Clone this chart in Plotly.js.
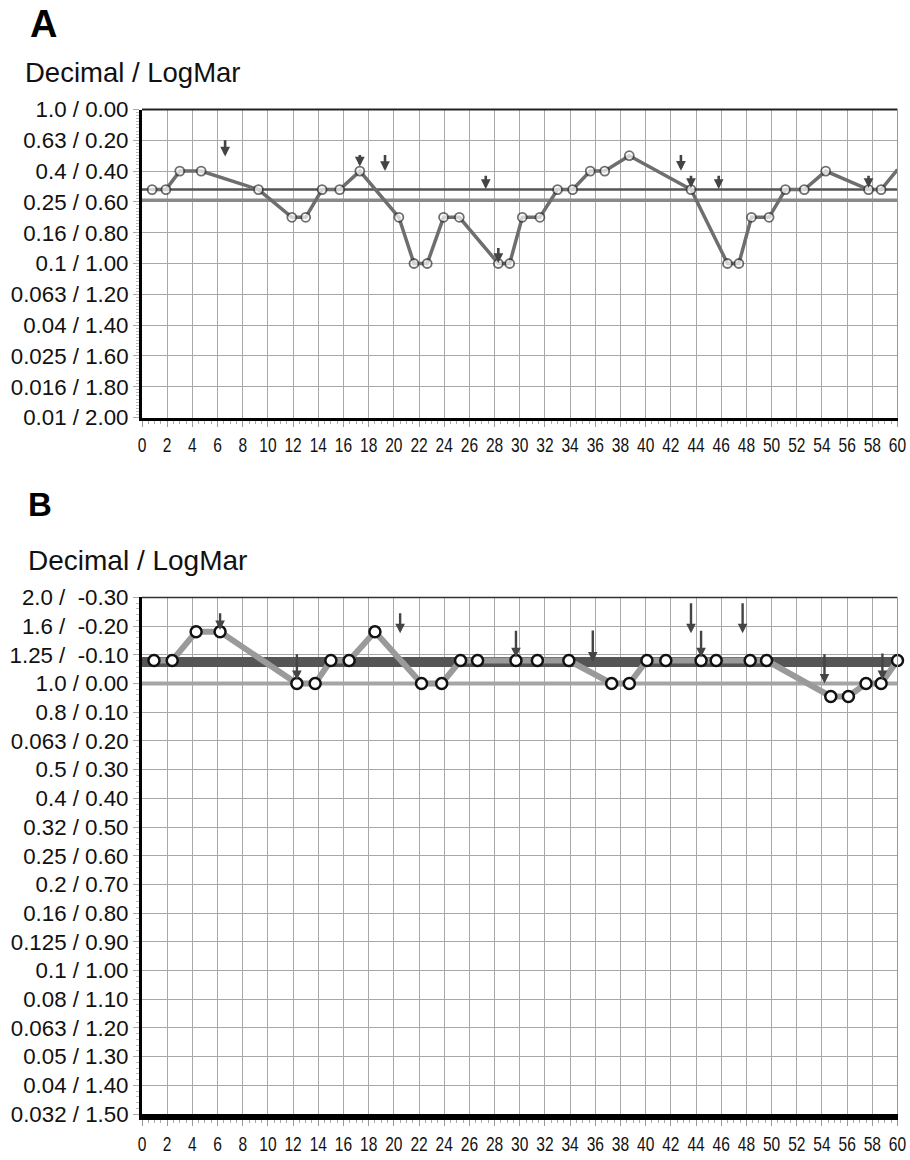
<!DOCTYPE html>
<html>
<head>
<meta charset="utf-8">
<script src="https://cdn.plot.ly/plotly-3.0.1.min.js"></script>
<style>
html,body{margin:0;padding:0;background:#fff;}
#chart{width:910px;height:1160px;}
</style>
</head>
<body>
<div id="chart"></div>
<script>
// ---------- Panel A data ----------
const xA = [0.8,1.9,3.0,4.7,9.25,11.9,13.0,14.3,15.7,17.3,20.4,21.6,22.65,23.95,25.2,28.3,29.2,30.2,31.6,33.0,34.2,35.6,36.75,38.7,43.6,46.5,47.4,48.4,49.8,51.1,52.6,54.3,57.7,58.7,60.0];
const yA = [0.52,0.52,0.40,0.40,0.52,0.70,0.70,0.52,0.52,0.40,0.70,1.00,1.00,0.70,0.70,1.00,1.00,0.70,0.70,0.52,0.52,0.40,0.40,0.30,0.52,1.00,1.00,0.70,0.70,0.52,0.52,0.40,0.52,0.52,0.39];
const refA = [0.52, 0.59];
const arrowXA    = [6.6, 17.3, 19.3, 27.3, 28.3, 42.8, 43.6, 45.8, 57.7];
const arrowTipA  = [0.306, 0.37, 0.40, 0.516, 0.997, 0.397, 0.51, 0.516, 0.51];
const arrowTailA = [0.19, 0.285, 0.285, 0.42, 0.89, 0.285, 0.42, 0.42, 0.42];
const tickValsA = [0.0,0.2,0.4,0.6,0.8,1.0,1.2,1.4,1.6,1.8,2.0];
const tickTextA = ["1.0 / 0.00","0.63 / 0.20","0.4 / 0.40","0.25 / 0.60","0.16 / 0.80","0.1 / 1.00","0.063 / 1.20","0.04 / 1.40","0.025 / 1.60","0.016 / 1.80","0.01 / 2.00"];

// ---------- Panel B data ----------
const xB = [0.95,2.4,4.3,6.2,12.3,13.75,15.0,16.45,18.5,22.2,23.8,25.3,26.65,29.7,31.4,33.9,37.3,38.7,40.1,41.6,44.4,45.6,48.3,49.6,54.7,56.1,57.5,58.7,60.0];
const yB = [-0.08,-0.08,-0.18,-0.18,0.0,0.0,-0.08,-0.08,-0.18,0.0,0.0,-0.08,-0.08,-0.08,-0.08,-0.08,0.0,0.0,-0.08,-0.08,-0.08,-0.08,-0.08,-0.08,0.045,0.045,0.0,0.0,-0.08];
const refB = [-0.075, 0.0];
const arrowXB    = [6.2, 12.3, 20.5, 29.7, 35.8, 43.6, 44.4, 47.7, 54.2, 58.8];
const arrowTipB  = [-0.186, -0.012, -0.175, -0.091, -0.076, -0.175, -0.091, -0.175, 0.0, -0.012];
const arrowTailB = [-0.25, -0.107, -0.25, -0.189, -0.19, -0.285, -0.189, -0.285, -0.107, -0.11];
const tickValsB = [-0.3,-0.2,-0.1,0.0,0.1,0.2,0.3,0.4,0.5,0.6,0.7,0.8,0.9,1.0,1.1,1.2,1.3,1.4,1.5];
const tickTextB = ["2.0 /\u00a0 -0.30","1.6 /\u00a0 -0.20","1.25 /\u00a0 -0.10","1.0 / 0.00","0.8 / 0.10","0.063 / 0.20","0.5 / 0.30","0.4 / 0.40","0.32 / 0.50","0.25 / 0.60","0.2 / 0.70","0.16 / 0.80","0.125 / 0.90","0.1 / 1.00","0.08 / 1.10","0.063 / 1.20","0.05 / 1.30","0.04 / 1.40","0.032 / 1.50"];

const xTicks = [];
for (let v = 0; v <= 60; v += 2) xTicks.push(v);

// ---------- layout helpers ----------
const W = 910, H = 1160;
const px = v => v / W;
const py = v => 1 - v / H;
const xDom = [px(142), px(897.5)];
const yDomA = [py(417.5), py(109.5)];
const yDomB = [py(1114), py(597.4)];

const FONT = "Liberation Sans, Arial, sans-serif";

function xAxis(anchor) {
  return {
    domain: xDom, anchor: anchor, range: [0, 60],
    tickvals: xTicks, ticktext: xTicks.map(String), tickangle: 0,
    showgrid: true, gridcolor: "#a8a8a8", gridwidth: 1,
    zeroline: false, showline: true, linecolor: "#000",
    ticks: "outside", ticklen: 6, tickcolor: "#999", tickwidth: 1,
    tickfont: {family: FONT, size: 21, color: "#111"},
    minor: {ticks: "outside", ticklen: 3, tickcolor: "#aaa", dtick: 0.5, tick0: 0, showgrid: false},
    fixedrange: true
  };
}
function yAxis(anchor, dom, range, tv, tt, minorDt) {
  return {
    domain: dom, anchor: anchor, range: range,
    tickvals: tv, ticktext: tt,
    showgrid: true, gridcolor: "#a8a8a8", gridwidth: 1,
    zeroline: false, showline: true, linecolor: "#000", linewidth: 3,
    ticks: "outside", ticklen: 6, tickcolor: "#aaa",
    tickfont: {family: FONT, size: 22.3, color: "#111"},
    minor: {ticks: "outside", ticklen: 3, tickcolor: "#bbb", dtick: minorDt, tick0: 0, showgrid: false},
    fixedrange: true
  };
}

const traces = [
  {
    x: xA, y: yA, xaxis: "x", yaxis: "y", type: "scatter", mode: "lines+markers",
    line: {color: "#6e6e6e", width: 3.5},
    marker: {symbol: "circle", size: xA.map((v, i) => i === xA.length - 1 ? 0 : 9),
             color: "#fff", line: {color: "#333", width: 1.8}},
    hoverinfo: "skip", showlegend: false
  },
  {
    x: xB, y: yB, xaxis: "x2", yaxis: "y2", type: "scatter", mode: "lines+markers",
    line: {color: "#9a9a9a", width: 6},
    marker: {symbol: "circle", size: 11, color: "#fff", line: {color: "#111", width: 2.5}},
    cliponaxis: false, hoverinfo: "skip", showlegend: false
  }
];

const shapes = [];
const refAStyle = [{color: "#555", width: 2.5}, {color: "#8a8a8a", width: 3.5}];
refA.forEach((v, i) => shapes.push({type: "line", xref: "x", yref: "y", x0: 0, x1: 60, y0: v, y1: v,
  line: refAStyle[i], layer: "between"}));
const refBStyle = [{color: "#555", width: 10}, {color: "#a5a5a5", width: 4}];
refB.forEach((v, i) => shapes.push({type: "line", xref: "x2", yref: "y2", x0: 0, x1: 60, y0: v, y1: v,
  line: refBStyle[i], layer: "between"}));
shapes.push({type: "line", xref: "paper", yref: "paper", x0: xDom[0], x1: xDom[1], y0: yDomA[1], y1: yDomA[1], line: {color: "#222", width: 2}});
shapes.push({type: "line", xref: "paper", yref: "paper", x0: xDom[0], x1: xDom[1], y0: yDomB[1], y1: yDomB[1], line: {color: "#333", width: 1.5}});
shapes.push({type: "line", xref: "paper", yref: "paper", x0: xDom[1], x1: xDom[1], y0: yDomA[0], y1: yDomA[1], line: {color: "#999", width: 1}});
shapes.push({type: "line", xref: "paper", yref: "paper", x0: xDom[1], x1: xDom[1], y0: yDomB[0], y1: yDomB[1], line: {color: "#999", width: 1}});

const annotations = [];
arrowXA.forEach((x, i) => annotations.push({
  xref: "x", yref: "y", x: x, y: arrowTipA[i], axref: "x", ayref: "y", ax: x, ay: arrowTailA[i],
  text: "", showarrow: true, arrowhead: 2, arrowsize: 0.75, arrowwidth: 2.6, arrowcolor: "#444", standoff: 0
}));
arrowXB.forEach((x, i) => annotations.push({
  xref: "x2", yref: "y2", x: x, y: arrowTipB[i], axref: "x2", ayref: "y2", ax: x, ay: arrowTailB[i],
  text: "", showarrow: true, arrowhead: 2, arrowsize: 0.8, arrowwidth: 2.4, arrowcolor: "#444", standoff: 0
}));
annotations.push({xref: "paper", yref: "paper", x: px(28), y: py(24), xanchor: "left", yanchor: "middle",
  text: "<b>A</b>", showarrow: false, font: {family: FONT, size: 38, color: "#000"}});
annotations.push({xref: "paper", yref: "paper", x: px(23), y: py(72), xanchor: "left", yanchor: "middle",
  text: "Decimal / LogMar", showarrow: false, font: {family: FONT, size: 27.5, color: "#111"}});
annotations.push({xref: "paper", yref: "paper", x: px(26), y: py(504), xanchor: "left", yanchor: "middle",
  text: "<b>B</b>", showarrow: false, font: {family: FONT, size: 33, color: "#000"}});
annotations.push({xref: "paper", yref: "paper", x: px(26), y: py(560), xanchor: "left", yanchor: "middle",
  text: "Decimal / LogMar", showarrow: false, font: {family: FONT, size: 28, color: "#111"}});

const xa1 = xAxis("y"); xa1.linewidth = 3;
const xa2 = xAxis("y2"); xa2.linewidth = 6;

const layout = {
  width: W, height: H,
  margin: {l: 0, r: 0, t: 0, b: 0, pad: 0},
  paper_bgcolor: "#fff", plot_bgcolor: "#fff",
  showlegend: false,
  xaxis: xa1,
  yaxis: yAxis("x", yDomA, [2.0, 0.0], tickValsA, tickTextA, 0.02),
  xaxis2: xa2,
  yaxis2: yAxis("x2", yDomB, [1.5, -0.3], tickValsB, tickTextB, 0.02),
  shapes: shapes,
  annotations: annotations
};

// condense the x tick labels horizontally (reference uses a narrow face)
function condenseXTicks() {
  document.querySelectorAll("#chart .xtick text, #chart .x2tick text").forEach(t => {
    t.removeAttribute("textLength");
    const len = t.getComputedTextLength();
    t.setAttribute("textLength", (len * 0.74).toFixed(2));
    t.setAttribute("lengthAdjust", "spacingAndGlyphs");
  });
}

const gd = document.getElementById("chart");
Plotly.newPlot(gd, traces, layout, {displayModeBar: false, staticPlot: true}).then(() => {
  condenseXTicks();
  gd.on("plotly_afterplot", condenseXTicks);
});
</script>
</body>
</html>
